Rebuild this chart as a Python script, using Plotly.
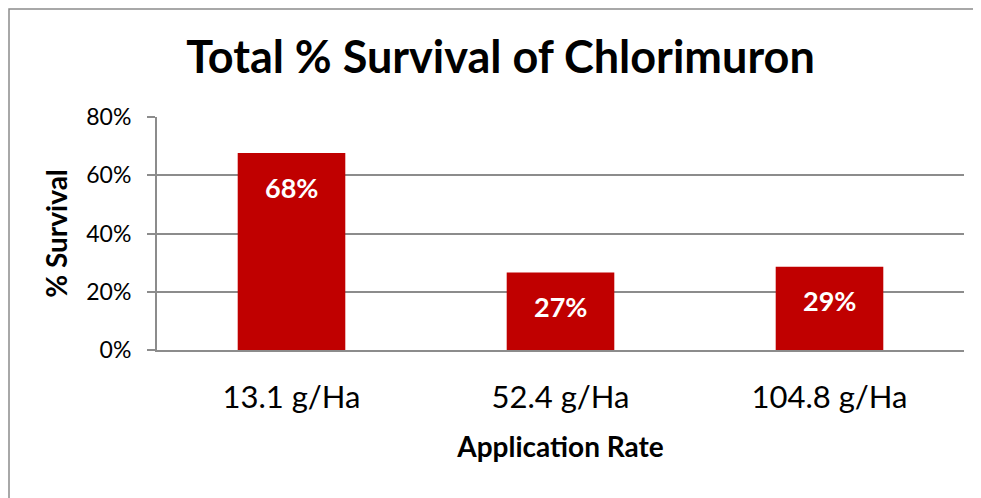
import plotly.graph_objects as go

rates = ["13.1 g/Ha", "52.4 g/Ha", "104.8 g/Ha"]
survival = [0.676, 0.266, 0.286]
y_ticks = [0, 0.2, 0.4, 0.6, 0.8]
y_tick_labels = ["0%", "20%", "40%", "60%", "80%"]

bar_color = "#C00000"
grid_color = "#8C8C8C"
font_name = "Lato"

fig = go.Figure()
fig.add_trace(go.Bar(x=rates, y=survival, marker=dict(color=bar_color, line=dict(width=0)),
                     width=0.4, hoverinfo="skip"))

# value labels placed just inside the top of each bar
for r, v in zip(rates, survival):
    fig.add_annotation(x=r, y=v, text="<b>%d%%</b>" % round(v * 100), showarrow=False,
                       yshift=-34, font=dict(family=font_name, size=27, color="white"))

# page body has an 8px margin, so plot area is set 8px up/left
fig.update_layout(
    width=981, height=498,
    margin=dict(l=149, r=25, t=109, b=156),
    paper_bgcolor="white", plot_bgcolor="white",
    showlegend=False,
    title=dict(text="<b>Total % Survival of Chlorimuron</b>", x=0.502, xanchor="center",
               y=1 - 49 / 498, yanchor="middle", yref="container",
               font=dict(family=font_name, size=45, color="black")),
    font=dict(family=font_name, color="black"),
)

fig.update_xaxes(showline=True, linecolor=grid_color, linewidth=2, showgrid=False,
                 ticks="", tickfont=dict(size=31), ticklabelstandoff=19,
                 title=dict(text="<b>Application Rate</b>", font=dict(size=28), standoff=23))
fig.update_yaxes(range=[0, 0.8], tickvals=y_ticks, ticktext=y_tick_labels,
                 showgrid=True, gridcolor=grid_color, gridwidth=1.5,
                 showline=True, linecolor=grid_color, linewidth=2,
                 ticks="outside", ticklen=8, tickcolor=grid_color, tickwidth=1.5,
                 tickfont=dict(size=23), ticklabelstandoff=11, zeroline=False,
                 title=dict(text="<b>% Survival</b>", font=dict(size=28), standoff=10))

# outer chart border (left/top clipped to figure edge)
fig.add_shape(type="rect", xref="paper", yref="paper",
              x0=(1 - 149) / 807, x1=(967 - 149) / 807,
              y0=(342 - 520) / 233, y1=(342 - 1) / 233,
              line=dict(color="#8C8C8C", width=1.5), fillcolor="rgba(0,0,0,0)", layer="below")

fig.write_html("out.html")
